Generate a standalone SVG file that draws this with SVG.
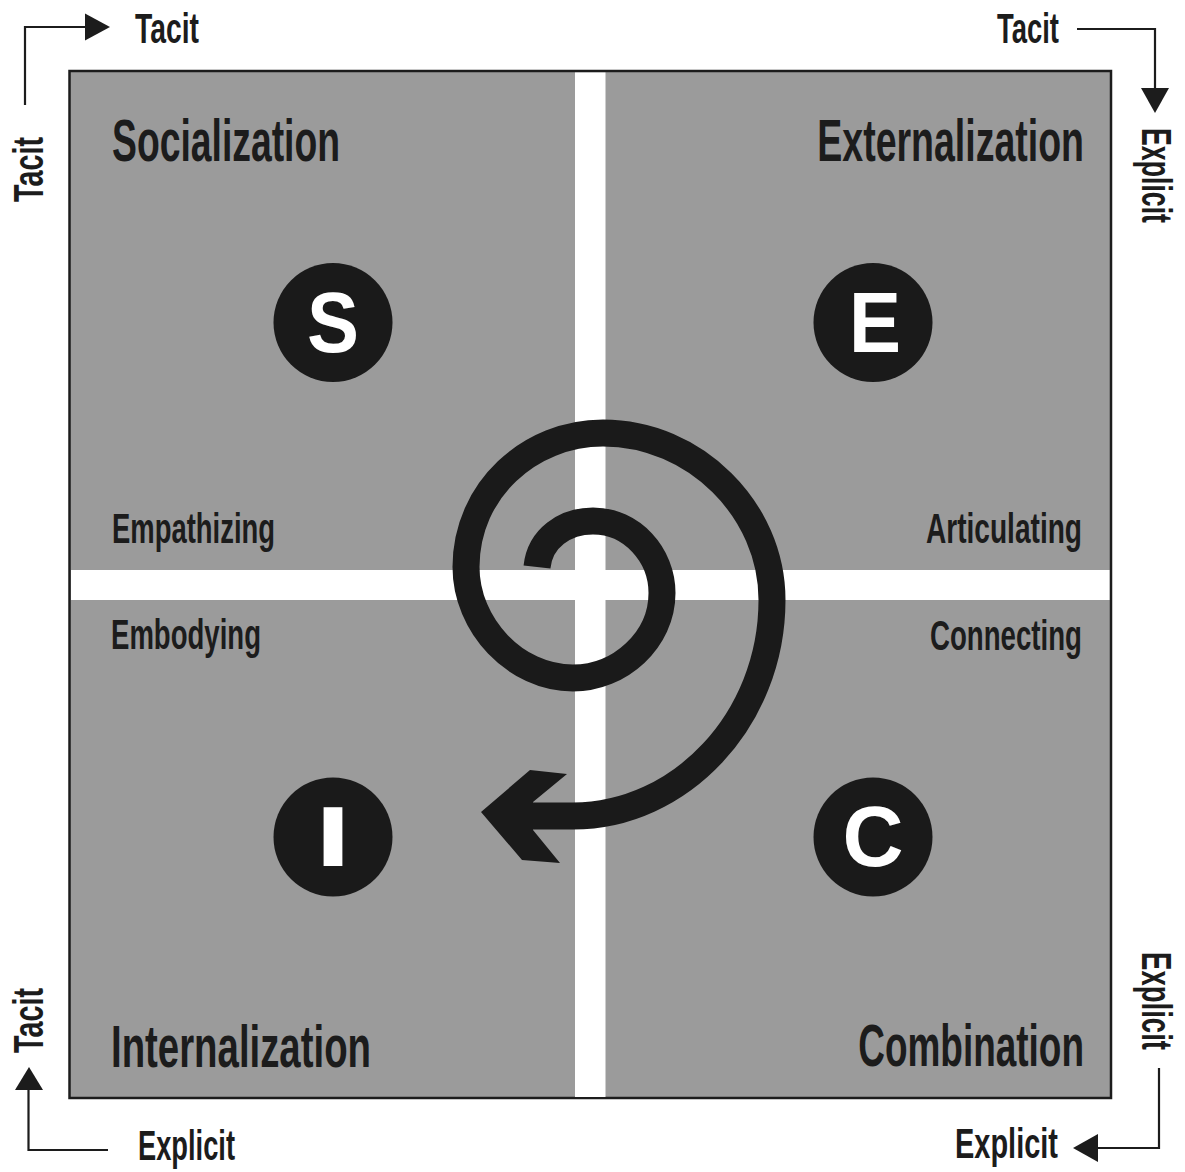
<svg xmlns="http://www.w3.org/2000/svg" width="1185" height="1172" viewBox="0 0 1185 1172">
<style>
  .lbl { font-family: "Liberation Sans", Arial, sans-serif; font-weight: bold; fill: #1c1c1c; }
  .big { font-size: 60px; }
  .mid { font-size: 43px; }
  .ax { font-size: 42px; }
  .letter { font-family: "Liberation Sans", Arial, sans-serif; font-weight: bold; font-size: 86px; fill: #ffffff; text-anchor: middle; }
  .axline { fill: none; stroke: #1c1c1c; stroke-width: 2.2; }
  .head { fill: #1c1c1c; }
</style>
<rect x="0" y="0" width="1185" height="1172" fill="#ffffff"/>

<g id="matrix">
  <rect x="69.5" y="71" width="1041.5" height="1027" fill="#9b9b9b" stroke="#1c1c1c" stroke-width="2.5"/>
  <rect x="575" y="72.5" width="30.5" height="1024.5" fill="#ffffff"/>
  <rect x="71" y="570" width="1038.5" height="30" fill="#ffffff"/>
</g>

<g id="socialization">
  <text class="lbl big" x="112" y="161" textLength="228" lengthAdjust="spacingAndGlyphs">Socialization</text>
  <text class="lbl mid" x="112" y="543" textLength="163" lengthAdjust="spacingAndGlyphs">Empathizing</text>
  <circle cx="333" cy="322.5" r="59.5" fill="#1a1a1a"/>
  <text class="letter" x="333" y="352" textLength="52" lengthAdjust="spacingAndGlyphs">S</text>
</g>

<g id="externalization">
  <text class="lbl big" transform="translate(1084,161) scale(0.625,1)" x="0" y="0" text-anchor="end">Externalization</text>
  <text class="lbl mid" x="926" y="543" textLength="156" lengthAdjust="spacingAndGlyphs">Articulating</text>
  <circle cx="873" cy="322.5" r="59.5" fill="#1a1a1a"/>
  <text class="letter" x="875" y="352" textLength="52" lengthAdjust="spacingAndGlyphs">E</text>
</g>

<g id="internalization">
  <text class="lbl big" x="111" y="1067" textLength="260" lengthAdjust="spacingAndGlyphs">Internalization</text>
  <text class="lbl mid" x="111" y="649" textLength="150" lengthAdjust="spacingAndGlyphs">Embodying</text>
  <circle cx="333" cy="837" r="59.5" fill="#1a1a1a"/>
  <text class="letter" x="333" y="866" textLength="36" lengthAdjust="spacingAndGlyphs">I</text>
</g>

<g id="combination">
  <text class="lbl big" transform="translate(1084,1066) scale(0.616,1)" x="0" y="0" text-anchor="end">Combination</text>
  <text class="lbl mid" x="930" y="650" textLength="152" lengthAdjust="spacingAndGlyphs">Connecting</text>
  <circle cx="873" cy="837" r="59.5" fill="#1a1a1a"/>
  <text class="letter" x="873" y="866" textLength="61" lengthAdjust="spacingAndGlyphs">C</text>
</g>

<g id="spiral">
  <path d="M 537 567 C 540 538, 565 521, 593 521 C 632 521, 662 555, 662 593 C 662 640, 620 678, 573 678 C 515 678, 466 625, 466 567 C 466 490, 530 433, 603 433 C 695 433, 772 510, 772 600 C 772 720, 680 816, 573 816 L 528 816" fill="none" stroke="#1a1a1a" stroke-width="27"/>
  <polygon points="481,812 530,770 567,774 533,802 533,830 560,863 522,860" fill="#1a1a1a"/>
</g>

<g id="connectors">
  <polyline class="axline" points="25,105 25,27 88,27"/>
  <polygon class="head" points="85,13.5 110,27 85,40.5"/>
  <polyline class="axline" points="1077,29 1155,29 1155,90"/>
  <polygon class="head" points="1141,88 1155,113 1169,88"/>
  <polyline class="axline" points="108,1150 28.5,1150 28.5,1088"/>
  <polygon class="head" points="15,1090 29,1067 43,1090"/>
  <polyline class="axline" points="1159,1068 1159,1148 1096,1148"/>
  <polygon class="head" points="1098,1134 1073,1148 1098,1162"/>
</g>

<g id="axis-labels">
  <text class="lbl ax" x="135" y="43" textLength="64" lengthAdjust="spacingAndGlyphs">Tacit</text>
  <text class="lbl ax" x="997" y="43" textLength="62" lengthAdjust="spacingAndGlyphs">Tacit</text>
  <text class="lbl ax" x="138" y="1160" textLength="97" lengthAdjust="spacingAndGlyphs">Explicit</text>
  <text class="lbl ax" x="955" y="1158" textLength="103" lengthAdjust="spacingAndGlyphs">Explicit</text>
  <text class="lbl ax" transform="translate(43,202) rotate(-90)" x="0" y="0" textLength="65" lengthAdjust="spacingAndGlyphs">Tacit</text>
  <text class="lbl ax" transform="translate(43,1053) rotate(-90)" x="0" y="0" textLength="65" lengthAdjust="spacingAndGlyphs">Tacit</text>
  <text class="lbl ax" transform="translate(1142,128) rotate(90)" x="0" y="0" textLength="95" lengthAdjust="spacingAndGlyphs">Explicit</text>
  <text class="lbl ax" transform="translate(1142,952) rotate(90)" x="0" y="0" textLength="98" lengthAdjust="spacingAndGlyphs">Explicit</text>
</g>
</svg>
